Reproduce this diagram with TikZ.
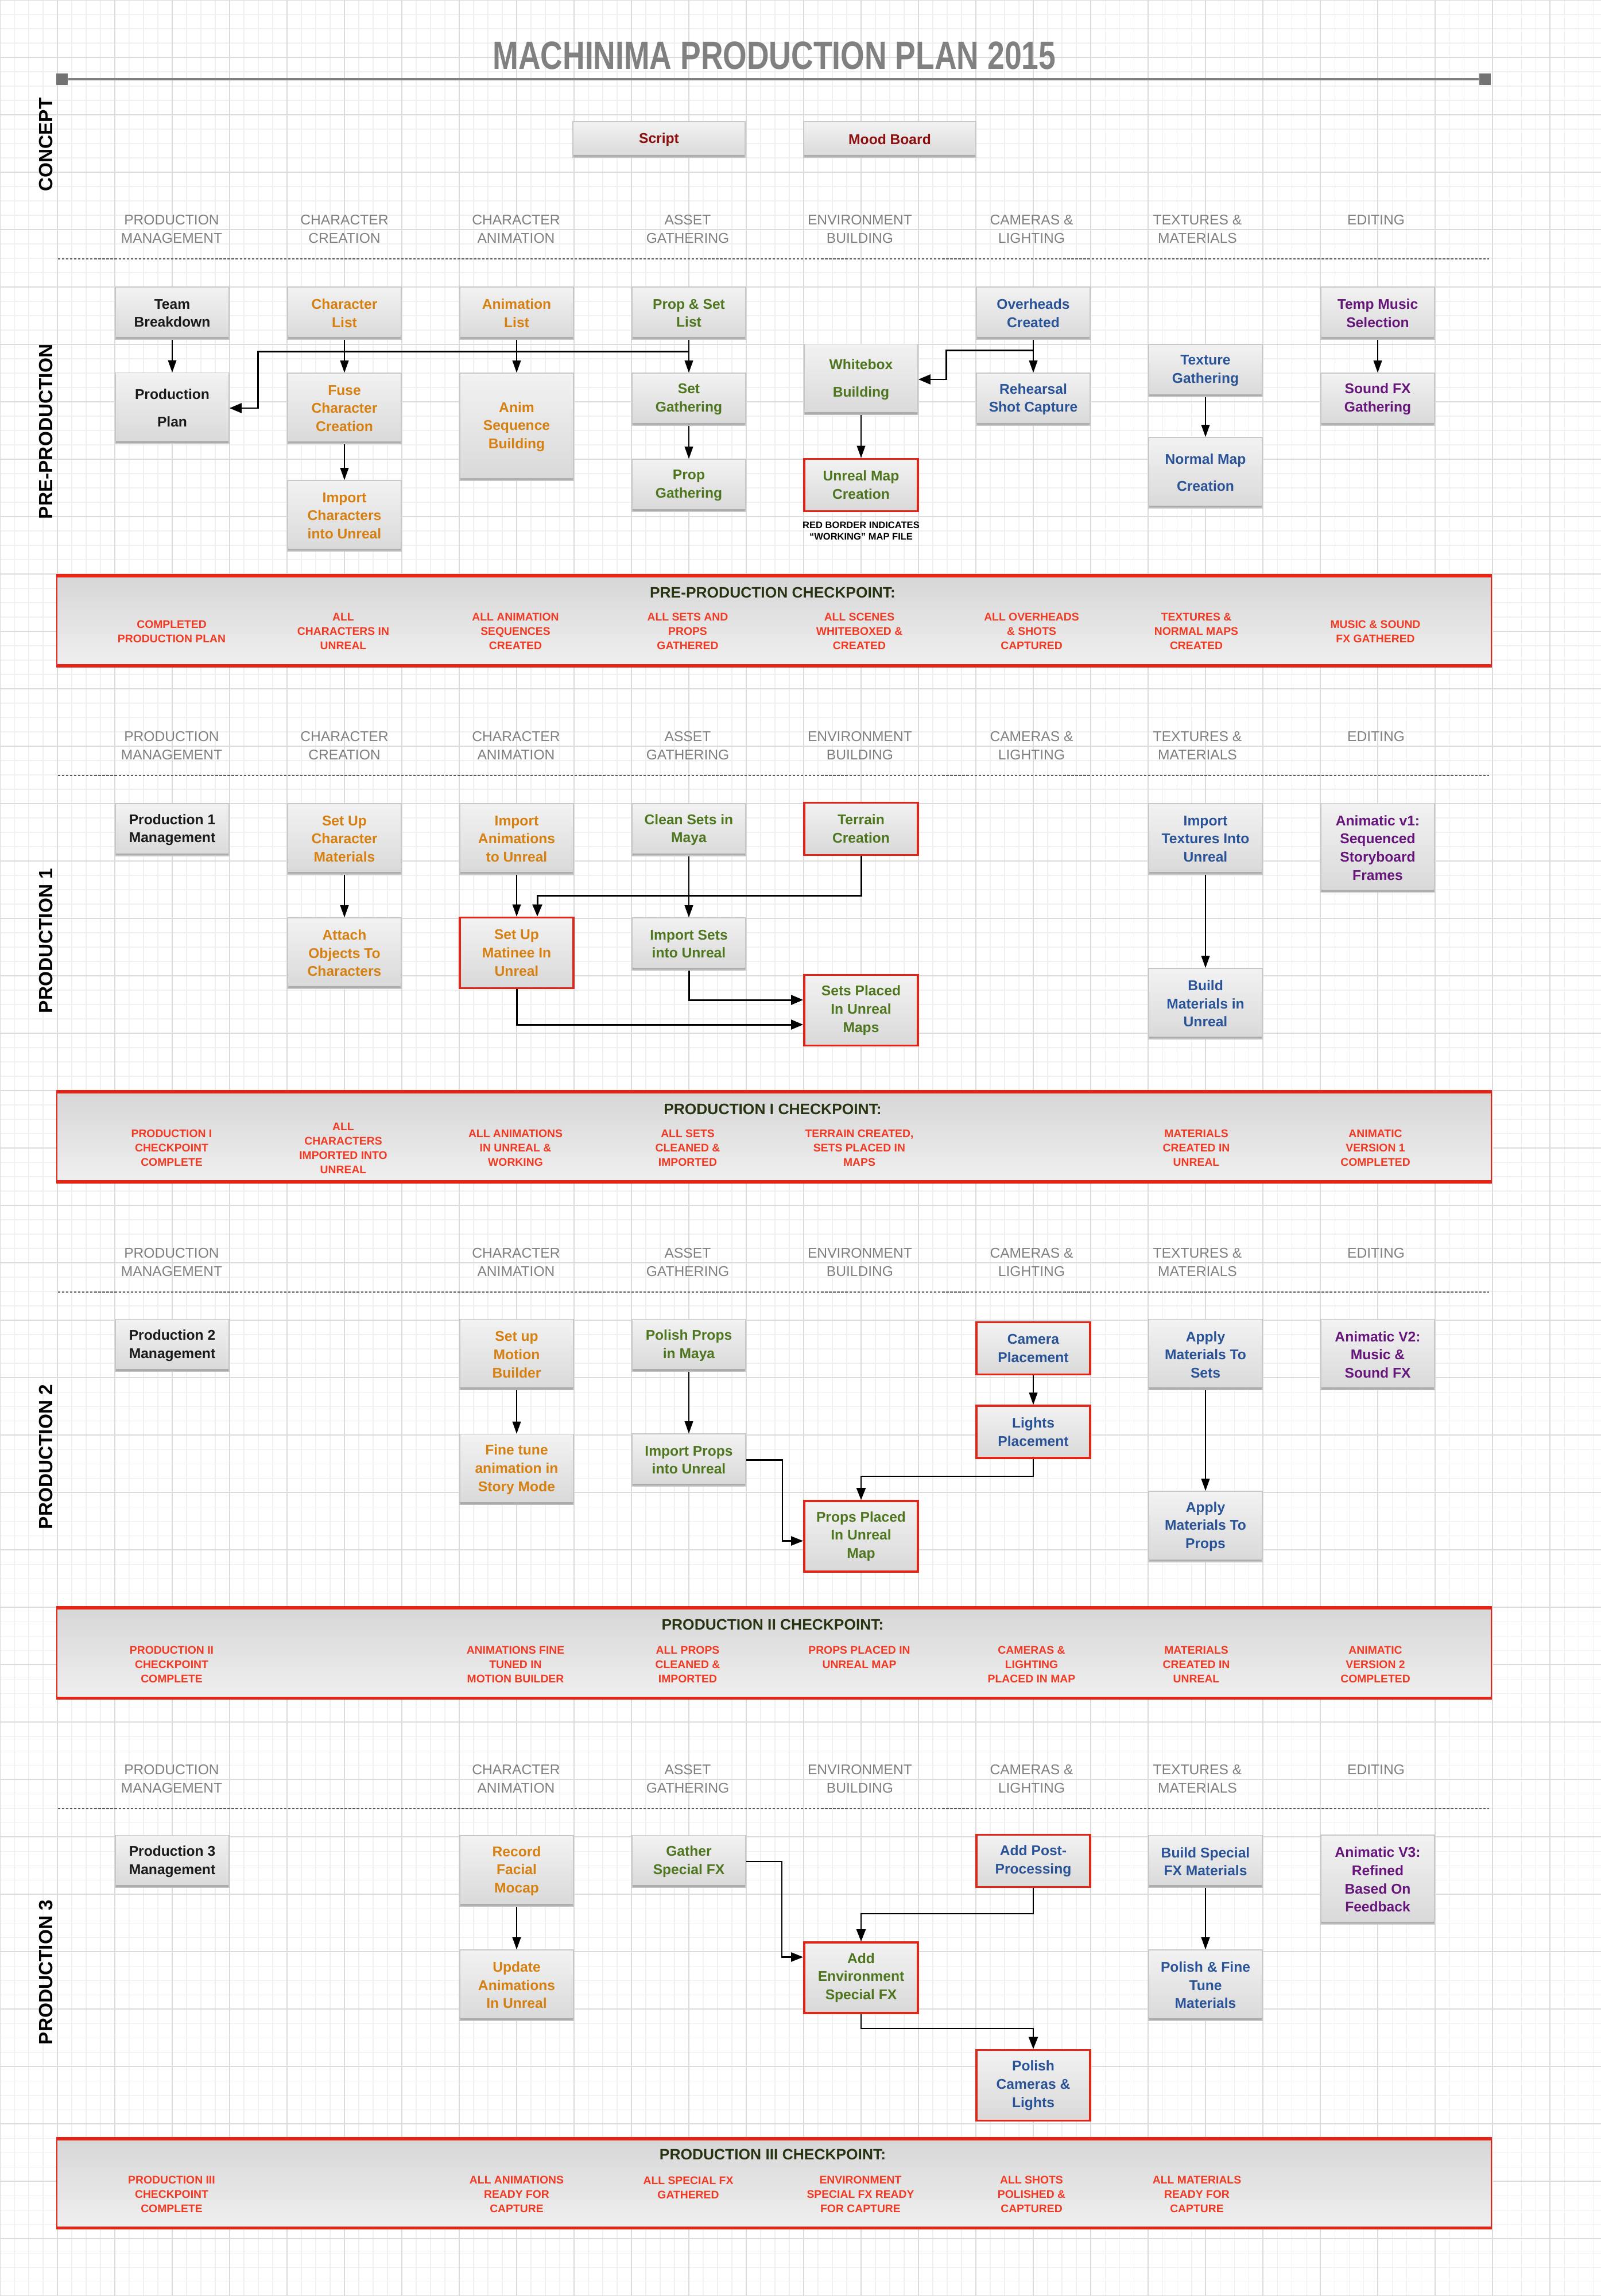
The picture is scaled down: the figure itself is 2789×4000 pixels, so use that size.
\documentclass[tikz,border=0pt]{standalone}
\usepackage{fontspec}
\setmainfont{Liberation Sans}
\newfontfamily\titlefont[FakeStretch=0.78]{Liberation Sans}
\definecolor{pmblack}{RGB}{25,25,25}
\definecolor{ccorange}{RGB}{214,128,18}
\definecolor{aggreen}{RGB}{78,118,30}
\definecolor{clblue}{RGB}{42,82,150}
\definecolor{edpurple}{RGB}{102,22,122}
\definecolor{cpred}{RGB}{240,58,35}
\definecolor{boxred}{RGB}{228,36,22}
\definecolor{cpdark}{RGB}{38,52,18}
\definecolor{conceptred}{RGB}{140,14,14}
\usetikzlibrary{arrows.meta,positioning}

\begin{document}
\begin{tikzpicture}[
  x=0.01cm, y=-0.01cm,
  every node/.style={inner sep=0pt},
  gridminor/.style={black!6,line width=0.3pt},
  gridmajor/.style={black!14,line width=0.6pt},
  box/.style={rectangle,minimum width=1.98cm,align=center,
              top color=black!5,bottom color=black!15,draw=black!22,line width=0.4pt,
              font=\fontsize{7}{9}\selectfont\bfseries,
              path picture={\draw[black!32,line width=2.4pt]
                (path picture bounding box.south west) -- (path picture bounding box.south east);}},
  lowbox/.style={box,minimum height=0.91cm},
  midbox/.style={box,minimum height=1.23cm},
  tallbox/.style={box,minimum height=1.55cm},
  workbox/.style={draw=boxred,line width=1pt,path picture={}},
  colhead/.style={align=center,text=black!50,font=\fontsize{7}{9}\selectfont},
  phase/.style={rotate=90,font=\fontsize{9.5}{11}\selectfont\bfseries,text=black},
  sepline/.style={black!65,line width=0.6pt,dash pattern=on 1.2pt off 0.8pt},
  checkbox/.style={rectangle,minimum width=24.97cm,minimum height=1.61cm,
              top color=black!16,bottom color=black!6,draw=boxred,line width=0.5pt,
              path picture={\draw[boxred,line width=2.6pt]
                (path picture bounding box.north west) -- (path picture bounding box.north east)
                (path picture bounding box.south west) -- (path picture bounding box.south east);}},
  cptitle/.style={text=cpdark,font=\fontsize{7.5}{9}\selectfont\bfseries},
  cpitem/.style={align=center,text=cpred,font=\fontsize{5.5}{7.1}\selectfont\bfseries},
  endcap/.style={rectangle,fill=black!55,minimum width=0.2cm,minimum height=0.2cm},
  arr/.style={-{Triangle[length=6pt,width=4.2pt]},line width=0.4pt},
  midarr/.style={-{Triangle[length=6pt,width=4.6pt]},line width=0.6pt},
  fatarr/.style={-{Triangle[length=6pt,width=4.8pt]},line width=0.85pt},
]
  \useasboundingbox (0,0) rectangle (2789,4000);
  \fill[white] (0,0) rectangle (2789,4000);

  % Graph paper background
  \foreach \gx in {0,25,...,2775} \draw[gridminor] (\gx,0) -- (\gx,4000);
  \foreach \gy in {0,25,...,4000} \draw[gridminor] (0,\gy) -- (2789,\gy);
  \foreach \gx in {0,100,...,2700} \draw[gridmajor] (\gx,0) -- (\gx,4000);
  \foreach \gy in {0,100,...,4000} \draw[gridmajor] (0,\gy) -- (2789,\gy);

  % Title and timeline bar
  \node[text=black!50,font=\titlefont\fontsize{19.5}{22}\selectfont\bfseries] (title) at (1349,97)
    {MACHINIMA PRODUCTION PLAN 2015};
  \node[endcap] (capL) at (108,138) {};
  \node[endcap] (capR) at (2587,138) {};
  \draw[black!50,line width=1.1pt] (capL) -- (capR);

  % Phase labels
  \node[phase] (phConcept) at (80,252) {CONCEPT};
  \node[phase] (phPre) at (80,752) {PRE-PRODUCTION};
  \node[phase] (phProd1) at (80,1639) {PRODUCTION 1};
  \node[phase] (phProd2) at (80,2538) {PRODUCTION 2};
  \node[phase] (phProd3) at (80,3436) {PRODUCTION 3};

  % Concept
  \node[box,minimum width=3.0cm,minimum height=0.62cm,text=conceptred] (script) at (1148,243) {Script};
  \node[box,minimum width=3.0cm,minimum height=0.62cm,text=conceptred] (mood) at (1550,243) {Mood Board};

  % Column headers for each phase
  \foreach \hy [count=\s] in {399,1299,2199,3099}{
    \node[colhead] (hdPM\s) at (299,\hy) {PRODUCTION\\MANAGEMENT};
    \node[colhead] (hdCA\s) at (899,\hy) {CHARACTER\\ANIMATION};
    \node[colhead] (hdAG\s) at (1198,\hy) {ASSET\\GATHERING};
    \node[colhead] (hdEB\s) at (1498,\hy) {ENVIRONMENT\\BUILDING};
    \node[colhead] (hdCL\s) at (1797,\hy) {CAMERAS \&\\LIGHTING};
    \node[colhead] (hdTM\s) at (2086,\hy) {TEXTURES \&\\MATERIALS};
    \node[colhead] (hdED\s) at (2397,{\hy-16}) {EDITING};
    \draw[sepline] (101,{\hy+52}) -- (2594,{\hy+52});
  }
  \node[colhead] (hdCC1) at (600,399) {CHARACTER\\CREATION};
  \node[colhead] (hdCC2) at (600,1299) {CHARACTER\\CREATION};

  % Pre-production
  \node[lowbox,text=pmblack] (teamBreak) at (300,545.5) {Team\\Breakdown};
  \node[lowbox,text=ccorange] (charList) at (600,545.5) {Character\\List};
  \node[lowbox,text=ccorange] (animList) at (900,545.5) {Animation\\List};
  \node[lowbox,text=aggreen] (propSetList) at (1200,545.5) {Prop \& Set\\List};
  \node[lowbox,text=clblue] (overheads) at (1800,545.5) {Overheads\\Created};
  \node[lowbox,text=edpurple] (tempMusic) at (2400,545.5) {Temp Music\\Selection};
  \node[midbox,text=pmblack] (prodPlan) at (300,711) {Production\\[0.16cm]Plan};
  \node[midbox,text=ccorange] (fuseChar) at (600,711.5) {Fuse\\Character\\Creation};
  \node[box,minimum height=1.87cm,text=ccorange] (animSeq) at (900,743.5) {Anim\\Sequence\\Building};
  \node[lowbox,text=aggreen] (setGather) at (1200,695.5) {Set\\Gathering};
  \node[midbox,text=aggreen] (whitebox) at (1500,661) {Whitebox\\[0.16cm]Building};
  \node[lowbox,text=clblue] (rehearsal) at (1800,695.5) {Rehearsal\\Shot Capture};
  \node[lowbox,text=clblue] (textureGather) at (2100,645.5) {Texture\\Gathering};
  \node[lowbox,text=edpurple] (soundFx) at (2400,695.5) {Sound FX\\Gathering};
  \node[midbox,text=ccorange] (importChar) at (600,898.5) {Import\\Characters\\into Unreal};
  \node[lowbox,text=aggreen] (propGather) at (1200,845.5) {Prop\\Gathering};
  \node[lowbox,workbox,text=aggreen] (unrealMap) at (1500,845) {Unreal Map\\Creation};
  \node[midbox,text=clblue] (normalMap) at (2100,823.5) {Normal Map\\[0.15cm]Creation};
  \node[align=center,font=\fontsize{4.7}{5.7}\selectfont\bfseries] (note) at (1500,925)
    {RED BORDER INDICATES\\“WORKING” MAP FILE};

  \draw[arr] (teamBreak) -- (prodPlan);
  \draw[arr] (charList) -- (fuseChar);
  \draw[arr] (animList) -- (animSeq);
  \draw[arr] (propSetList) -- (setGather);
  \draw[arr] (fuseChar) -- (importChar);
  \draw[arr] (setGather) -- (propGather);
  \draw[arr] (overheads) -- (rehearsal);
  \draw[arr] (whitebox) -- (unrealMap);
  \draw[arr] (textureGather) -- (normalMap);
  \draw[arr] (tempMusic) -- (soundFx);
  \draw[fatarr] ([yshift=-0.21cm]propSetList.south) -| ([xshift=0.5cm]prodPlan.east) -- (prodPlan.east);
  \draw[fatarr] ([yshift=-0.19cm]overheads.south) -| ([xshift=0.49cm]whitebox.east) -- (whitebox.east);

  % Pre-production checkpoint
  \node[checkbox] (cpPre) at (1348.5,1081.5) {};
  \node[cptitle] (cpPreT) at (1346,1032) {PRE-PRODUCTION CHECKPOINT:};
  \node[cpitem] (cpPre1) at (299,1100) {COMPLETED\\PRODUCTION PLAN};
  \node[cpitem] (cpPre2) at (598,1100) {ALL\\CHARACTERS IN\\UNREAL};
  \node[cpitem] (cpPre3) at (898,1100) {ALL ANIMATION\\SEQUENCES\\CREATED};
  \node[cpitem] (cpPre4) at (1198,1100) {ALL SETS AND\\PROPS\\GATHERED};
  \node[cpitem] (cpPre5) at (1497,1100) {ALL SCENES\\WHITEBOXED \&\\CREATED};
  \node[cpitem] (cpPre6) at (1797,1100) {ALL OVERHEADS\\\& SHOTS\\CAPTURED};
  \node[cpitem] (cpPre7) at (2084,1100) {TEXTURES \&\\NORMAL MAPS\\CREATED};
  \node[cpitem] (cpPre8) at (2396,1100) {MUSIC \& SOUND\\FX GATHERED};

  % Production 1
  \node[lowbox,text=pmblack] (prod1Mgmt) at (300,1445.5) {Production 1\\Management};
  \node[midbox,text=ccorange] (setupCharMat) at (600,1461.5) {Set Up\\Character\\Materials};
  \node[midbox,text=ccorange] (importAnim) at (900,1461.5) {Import\\Animations\\to Unreal};
  \node[lowbox,text=aggreen] (cleanSets) at (1200,1445.5) {Clean Sets in\\Maya};
  \node[lowbox,workbox,text=aggreen] (terrain) at (1500,1444) {Terrain\\Creation};
  \node[midbox,text=clblue] (importTex) at (2100,1461.5) {Import\\Textures Into\\Unreal};
  \node[tallbox,text=edpurple] (animaticV1) at (2400,1477) {Animatic v1:\\Sequenced\\Storyboard\\Frames};
  \node[midbox,text=ccorange] (attachObj) at (600,1660.5) {Attach\\Objects To\\Characters};
  \node[midbox,workbox,text=ccorange] (matinee) at (900,1660) {Set Up\\Matinee In\\Unreal};
  \node[lowbox,text=aggreen] (importSets) at (1200,1644.5) {Import Sets\\into Unreal};
  \node[midbox,workbox,text=aggreen] (setsPlaced) at (1500,1760) {Sets Placed\\In Unreal\\Maps};
  \node[midbox,text=clblue] (buildMat) at (2100,1748.5) {Build\\Materials in\\Unreal};

  \draw[arr] (setupCharMat) -- (attachObj);
  \draw[arr] (importAnim) -- (matinee);
  \draw[arr] (cleanSets) -- (importSets);
  \draw[arr] (importTex) -- (buildMat);
  \draw[fatarr] (terrain.south) -- ++(0,69) -| ([xshift=0.36cm]matinee.north);
  \draw[fatarr] (importSets.south) |- ([yshift=0.18cm]setsPlaced.west);
  \draw[fatarr] (matinee.south) |- ([yshift=-0.25cm]setsPlaced.west);

  % Production 1 checkpoint
  \node[checkbox] (cpP1) at (1348.5,1980.5) {};
  \node[cptitle] (cpP1T) at (1346,1932) {PRODUCTION I CHECKPOINT:};
  \node[cpitem] (cpP1a) at (299,2000) {PRODUCTION I\\CHECKPOINT\\COMPLETE};
  \node[cpitem] (cpP1b) at (598,2000) {ALL\\CHARACTERS\\IMPORTED INTO\\UNREAL};
  \node[cpitem] (cpP1c) at (898,2000) {ALL ANIMATIONS\\IN UNREAL \&\\WORKING};
  \node[cpitem] (cpP1d) at (1198,2000) {ALL SETS\\CLEANED \&\\IMPORTED};
  \node[cpitem] (cpP1e) at (1497,2000) {TERRAIN CREATED,\\SETS PLACED IN\\MAPS};
  \node[cpitem] (cpP1f) at (2084,2000) {MATERIALS\\CREATED IN\\UNREAL};
  \node[cpitem] (cpP1g) at (2396,2000) {ANIMATIC\\VERSION 1\\COMPLETED};

  % Production 2
  \node[lowbox,text=pmblack] (prod2Mgmt) at (300,2344) {Production 2\\Management};
  \node[midbox,text=ccorange] (motionBuilder) at (900,2360) {Set up\\Motion\\Builder};
  \node[lowbox,text=aggreen] (polishProps) at (1200,2344) {Polish Props\\in Maya};
  \node[lowbox,workbox,text=clblue] (camera) at (1800,2349) {Camera\\Placement};
  \node[midbox,text=clblue] (applySets) at (2100,2360) {Apply\\Materials To\\Sets};
  \node[midbox,text=edpurple] (animaticV2) at (2400,2360) {Animatic V2:\\Music \&\\Sound FX};
  \node[midbox,text=ccorange] (fineTune) at (900,2560) {Fine tune\\animation in\\Story Mode};
  \node[lowbox,text=aggreen] (importProps) at (1200,2543.5) {Import Props\\into Unreal};
  \node[lowbox,workbox,text=clblue] (lights) at (1800,2494.5) {Lights\\Placement};
  \node[midbox,workbox,text=aggreen] (propsPlaced) at (1500,2676.5) {Props Placed\\In Unreal\\Map};
  \node[midbox,text=clblue] (applyProps) at (2100,2659.5) {Apply\\Materials To\\Props};

  \draw[arr] (motionBuilder) -- (fineTune);
  \draw[arr] (polishProps) -- (importProps);
  \draw[arr] (camera) -- (lights);
  \draw[arr] (applySets) -- (applyProps);
  \draw[midarr] (importProps.east) -- ++(63,0) |- ([yshift=-0.08cm]propsPlaced.west);
  \draw[midarr] (lights.south) -- ++(0,30) -| (propsPlaced.north);

  % Production 2 checkpoint
  \node[checkbox] (cpP2) at (1348.5,2879.5) {};
  \node[cptitle] (cpP2T) at (1346,2830) {PRODUCTION II CHECKPOINT:};
  \node[cpitem] (cpP2a) at (299,2900) {PRODUCTION II\\CHECKPOINT\\COMPLETE};
  \node[cpitem] (cpP2b) at (898,2900) {ANIMATIONS FINE\\TUNED IN\\MOTION BUILDER};
  \node[cpitem] (cpP2c) at (1198,2900) {ALL PROPS\\CLEANED \&\\IMPORTED};
  \node[cpitem] (cpP2d) at (1497,2887.5) {PROPS PLACED IN\\UNREAL MAP};
  \node[cpitem] (cpP2e) at (1797,2900) {CAMERAS \&\\LIGHTING\\PLACED IN MAP};
  \node[cpitem] (cpP2f) at (2084,2900) {MATERIALS\\CREATED IN\\UNREAL};
  \node[cpitem] (cpP2g) at (2396,2900) {ANIMATIC\\VERSION 2\\COMPLETED};

  % Production 3
  \node[lowbox,text=pmblack] (prod3Mgmt) at (300,3243) {Production 3\\Management};
  \node[midbox,text=ccorange] (recordMocap) at (900,3259.5) {Record\\Facial\\Mocap};
  \node[lowbox,text=aggreen] (gatherFx) at (1200,3243) {Gather\\Special FX};
  \node[lowbox,workbox,text=clblue] (addPost) at (1800,3242) {Add Post-\\Processing};
  \node[lowbox,text=clblue] (buildFx) at (2100,3243) {Build Special\\FX Materials};
  \node[tallbox,text=edpurple] (animaticV3) at (2400,3274.5) {Animatic V3:\\Refined\\Based On\\Feedback};
  \node[midbox,text=ccorange] (updateAnim) at (900,3458.5) {Update\\Animations\\In Unreal};
  \node[midbox,workbox,text=aggreen] (addEnv) at (1500,3445.5) {Add\\Environment\\Special FX};
  \node[midbox,text=clblue] (polishTune) at (2100,3458.5) {Polish \& Fine\\Tune\\Materials};
  \node[midbox,workbox,text=clblue] (polishCam) at (1800,3633) {Polish\\Cameras \&\\Lights};

  \draw[arr] (recordMocap) -- (updateAnim);
  \draw[arr] (buildFx) -- (polishTune);
  \draw[midarr] (gatherFx.east) -- ++(62,0) |- ([yshift=0.36cm]addEnv.west);
  \draw[midarr] (addPost.south) -- ++(0,45) -| (addEnv.north);
  \draw[midarr] (addEnv.south) -- ++(0,25) -| (polishCam.north);

  % Production 3 checkpoint
  \node[checkbox,minimum height=1.59cm] (cpP3) at (1348.5,3803.5) {};
  \node[cptitle] (cpP3T) at (1346,3753) {PRODUCTION III CHECKPOINT:};
  \node[cpitem] (cpP3a) at (299,3823) {PRODUCTION III\\CHECKPOINT\\COMPLETE};
  \node[cpitem] (cpP3b) at (900,3823) {ALL ANIMATIONS\\READY FOR\\CAPTURE};
  \node[cpitem] (cpP3c) at (1199,3811.5) {ALL SPECIAL FX\\GATHERED};
  \node[cpitem] (cpP3d) at (1499,3823) {ENVIRONMENT\\SPECIAL FX READY\\FOR CAPTURE};
  \node[cpitem] (cpP3e) at (1797,3823) {ALL SHOTS\\POLISHED \&\\CAPTURED};
  \node[cpitem] (cpP3f) at (2085,3823) {ALL MATERIALS\\READY FOR\\CAPTURE};
\end{tikzpicture}
\end{document}
